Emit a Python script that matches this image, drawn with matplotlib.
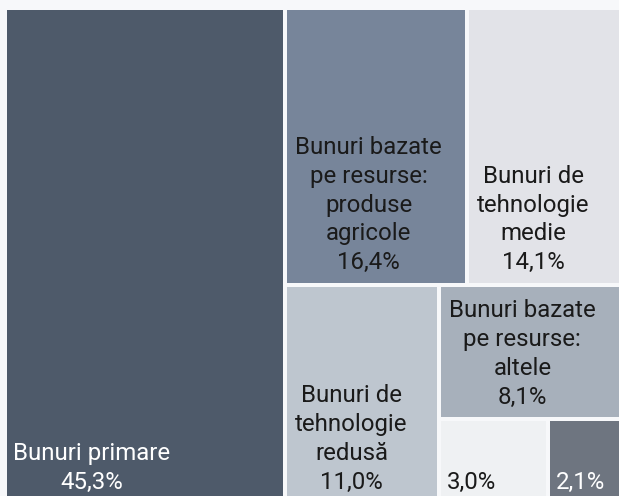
import matplotlib
matplotlib.use("Agg")
import matplotlib.pyplot as plt
from matplotlib.patches import Rectangle

labels = ["Bunuri primare", "Bunuri bazate\npe resurse:\nproduse\nagricole",
          "Bunuri de\ntehnologie\nmedie", "Bunuri de\ntehnologie\nredusă",
          "Bunuri bazate\npe resurse:\naltele", "", ""]
values = [45.3, 16.4, 14.1, 11.0, 8.1, 3.0, 2.1]
value_text = ["45,3%", "16,4%", "14,1%", "11,0%", "8,1%", "3,0%", "2,1%"]
colors = ["#4e5a6a", "#77859a", "#e2e3e8", "#bec6cf", "#a7b0bb", "#eff1f3", "#6e7580"]
text_colors = ["#ffffff", "#1a1a1a", "#1a1a1a", "#1a1a1a", "#1a1a1a", "#1a1a1a", "#ffffff"]

W, H = 619, 496
BG = "#f7f8fa"


def worst(row, side):
    s = sum(row)
    return max(max(side * side * r / (s * s), (s * s) / (side * side * r)) for r in row)


def squarify(vals, x, y, w, h):
    total = sum(vals)
    areas = [v / total * w * h for v in vals]
    rects = []
    i = 0
    while i < len(areas):
        side = min(w, h)
        row = [areas[i]]
        j = i + 1
        while j < len(areas) and worst(row + [areas[j]], side) <= worst(row, side):
            row.append(areas[j])
            j += 1
        s = sum(row)
        if w >= h:
            rw = s / h
            yy = y
            for a in row:
                rh = a / rw
                rects.append((x, yy, rw, rh))
                yy += rh
            x += rw
            w -= rw
        else:
            rh = s / w
            xx = x
            for a in row:
                rw_ = a / rh
                rects.append((xx, y, rw_, rh))
                xx += rw_
            y += rh
            h -= rh
        i = j
    return rects


fig = plt.figure(figsize=(W / 100, H / 100), dpi=100, facecolor=BG)
ax = fig.add_axes([0, 0, 1, 1])
ax.set_xlim(0, W)
ax.set_ylim(H, 0)
ax.axis("off")
ax.set_facecolor(BG)

rects = squarify(values, 5, 8, 618.5, 496)
g = 2.0
font = "Roboto"
for (x, y, w, h), c, lab, vt, tc in zip(rects, colors, labels, value_text, text_colors):
    ax.add_patch(Rectangle((x + g, y + g), w - 2 * g, h - 2 * g, facecolor=c, edgecolor="none"))
    txt = (lab + "\n" + vt) if lab else vt
    pad = 8 if lab and "\n" in lab else 6
    ax.text(x + g + pad, y + h - g - 13.5, txt, ha="left", va="baseline", multialignment="center",
            color=tc, fontsize=17.3, family=font, linespacing=1.32)

fig.savefig("out.png", dpi=100, facecolor=BG)
